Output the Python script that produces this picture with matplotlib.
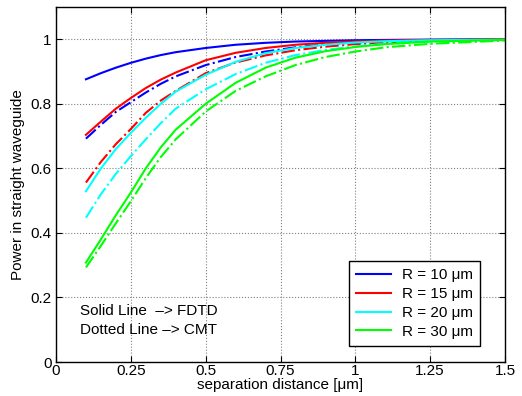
import matplotlib
matplotlib.use("Agg")
import matplotlib.pyplot as plt

plt.rcParams['font.family'] = ['Liberation Sans', 'DejaVu Sans']

x = [0.1, 0.15, 0.2, 0.25, 0.3, 0.35, 0.4, 0.5, 0.6, 0.7, 0.8, 0.9, 1.0, 1.1, 1.25, 1.5]

fdtd_r10 = [0.876, 0.895, 0.912, 0.927, 0.940, 0.951, 0.960, 0.973, 0.983, 0.989, 0.993, 0.995, 0.997, 0.998, 0.999, 1.0]
fdtd_r15 = [0.704, 0.745, 0.785, 0.818, 0.849, 0.875, 0.897, 0.935, 0.958, 0.973, 0.983, 0.989, 0.993, 0.996, 0.998, 1.0]
fdtd_r20 = [0.529, 0.600, 0.660, 0.710, 0.757, 0.800, 0.838, 0.890, 0.930, 0.957, 0.973, 0.983, 0.990, 0.994, 0.997, 0.999]
fdtd_r30 = [0.308, 0.380, 0.455, 0.525, 0.600, 0.665, 0.720, 0.800, 0.865, 0.912, 0.943, 0.963, 0.976, 0.985, 0.993, 0.998]

cmt_r10 = [0.692, 0.735, 0.775, 0.805, 0.835, 0.862, 0.885, 0.920, 0.945, 0.962, 0.975, 0.984, 0.990, 0.994, 0.997, 0.999]
cmt_r15 = [0.556, 0.620, 0.675, 0.722, 0.772, 0.810, 0.840, 0.895, 0.928, 0.950, 0.966, 0.977, 0.985, 0.990, 0.995, 0.998]
cmt_r20 = [0.447, 0.520, 0.583, 0.638, 0.690, 0.740, 0.785, 0.845, 0.892, 0.927, 0.951, 0.967, 0.978, 0.986, 0.993, 0.998]
cmt_r30 = [0.293, 0.360, 0.430, 0.498, 0.570, 0.635, 0.690, 0.776, 0.840, 0.885, 0.920, 0.945, 0.962, 0.975, 0.986, 0.996]

labels = ['R = 10 μm', 'R = 15 μm', 'R = 20 μm', 'R = 30 μm']
colors = ['#0000ff', '#ff0000', '#00ffff', '#00ff00']

xticks = [0, 0.25, 0.5, 0.75, 1, 1.25, 1.5]
xticklabels = ['0', '0.25', '0.5', '0.75', '1', '1.25', '1.5']
yticks = [0, 0.2, 0.4, 0.6, 0.8, 1.0]
yticklabels = ['0', '0.2', '0.4', '0.6', '0.8', '1']

FS = 11

fig = plt.figure(figsize=(5.22, 3.96), dpi=100)
ax = fig.add_axes([56/522, 1-362/396, (505-56)/522, (362-7)/396])

fdtd = [fdtd_r10, fdtd_r15, fdtd_r20, fdtd_r30]
cmt = [cmt_r10, cmt_r15, cmt_r20, cmt_r30]
handles = []
for f, c, col, lab in zip(fdtd, cmt, colors, labels):
    h, = ax.plot(x, f, '-', color=col, lw=1.5, label=lab)
    ax.plot(x, c, '-.', color=col, lw=1.5)
    handles.append(h)

ax.set_xlim(0, 1.5)
ax.set_ylim(0, 1.1)
ax.set_xticks(xticks)
ax.set_xticklabels(xticklabels)
ax.set_yticks(yticks)
ax.set_yticklabels(yticklabels)
ax.tick_params(direction='in', top=True, right=True, length=4, labelsize=FS)
ax.tick_params(axis='x', pad=1.5)
ax.tick_params(axis='y', pad=3)
ax.grid(True, linestyle=':', color='#808080', linewidth=0.8)
for s in ax.spines.values():
    s.set_linewidth(1.0)

ax.set_xlabel('separation distance [μm]', fontsize=FS, labelpad=0)
ax.set_ylabel('Power in straight waveguide', fontsize=FS, labelpad=4)

ax.text(0.08, 0.158, 'Solid Line  –> FDTD', fontsize=FS, va='center')
ax.text(0.08, 0.100, 'Dotted Line –> CMT', fontsize=FS, va='center')

leg = ax.legend(handles=handles, loc='lower right', bbox_to_anchor=((480-56)/449, (362-345.7)/355),
                borderaxespad=0, fontsize=FS, fancybox=False, edgecolor='black', framealpha=1,
                handlelength=2.3, handletextpad=0.7, borderpad=0.45, labelspacing=0.32)
leg.get_frame().set_linewidth(1.0)

fig.savefig('out.png', dpi=100)
